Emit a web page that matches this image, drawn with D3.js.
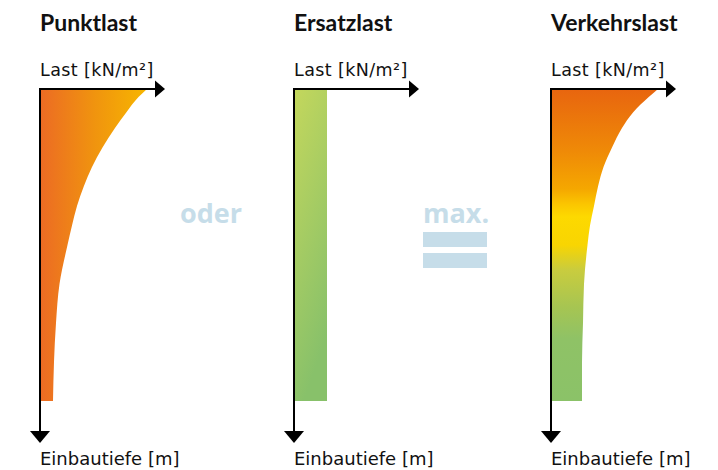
<!DOCTYPE html>
<html>
<head>
<meta charset="utf-8">
<script src="https://cdn.jsdelivr.net/npm/d3@7/dist/d3.min.js"></script>
<style>
  body { margin: 0; background: #fff; }
  svg text { font-family: "DejaVu Sans", sans-serif; fill: #111; }
  .title { font-family: Lato, sans-serif; font-weight: bold; font-size: 23px; }
  .xlabel { font-size: 17.5px; letter-spacing: 0.4px; }
  .ylabel { font-size: 18px; }
  .between { font-family: "Open Sans", sans-serif; font-weight: bold; font-size: 27px; fill: #c6dde9; }
</style>
</head>
<body>
<svg id="plot" width="718" height="470"></svg>
<script>
// chart values
var titles = ['Punktlast', 'Ersatzlast', 'Verkehrslast'];
var xLabel = 'Last [kN/m²]';
var yLabel = 'Einbautiefe [m]';
var joinWords = ['oder', 'max.'];

// depth [m] and load [kN/m²] along each profile
var depths = [0, 0.1, 0.3, 0.5, 0.75, 1.0, 1.25, 1.5, 1.75, 2.0, 2.5, 3.0, 3.5, 4.0];
var punktLoads = [8.56, 7.9, 6.9, 6.0, 5.0, 4.16, 3.5, 2.96, 2.56, 2.2, 1.56, 1.28, 1.12, 1.04];
var ersatzLoads = [2.64, 2.64, 2.64, 2.64, 2.64, 2.64, 2.64, 2.64, 2.64, 2.64, 2.64, 2.64, 2.64, 2.64];
var verkehrLoads = [8.56, 7.84, 6.56, 5.68, 4.88, 4.2, 3.76, 3.44, 3.12, 2.92, 2.64, 2.56, 2.48, 2.48];

var loads = [punktLoads, ersatzLoads, verkehrLoads];

var svg = d3.select('#plot');
var panelX = [40, 294, 551];   // left edge (axis) of each panel
var top0 = 89;

// scales shared by all three profiles
var yScale = d3.scaleLinear().domain([0, 4]).range([top0, 401]);
var xLen = d3.scaleLinear().domain([0, 10]).range([0, 125]);

var defs = svg.append('defs');

// Punktlast: horizontal orange gradient (in panel coordinates)
var g0 = defs.append('linearGradient').attr('id', 'grad0')
  .attr('gradientUnits', 'userSpaceOnUse')
  .attr('x1', 0).attr('x2', 107).attr('y1', 0).attr('y2', 0);
[[0, '#ec6b24'], [0.5, '#f0930f'], [1, '#f7b600']].forEach(function (s) {
  g0.append('stop').attr('offset', s[0]).attr('stop-color', s[1]);
});

// Ersatzlast: light to darker green
var g1 = defs.append('linearGradient').attr('id', 'grad1')
  .attr('x1', 0).attr('x2', 0.3).attr('y1', 0).attr('y2', 1);
[[0, '#c4d75c'], [1, '#88c16a']].forEach(function (s) {
  g1.append('stop').attr('offset', s[0]).attr('stop-color', s[1]);
});

// Verkehrslast: orange -> yellow -> green, top to bottom
var g2 = defs.append('linearGradient').attr('id', 'grad2')
  .attr('gradientUnits', 'userSpaceOnUse')
  .attr('x1', 0).attr('x2', 0).attr('y1', top0).attr('y2', 401);
[[0, '#e8650f'], [0.2, '#ef8a07'], [0.32, '#f5a700'], [0.37, '#fbc600'], [0.41, '#fdd900'],
 [0.5, '#f8d502'], [0.58, '#c9cc3e'], [0.7, '#a6c552'], [0.8, '#8fc266'], [1, '#8bc268']].forEach(function (s) {
  g2.append('stop').attr('offset', s[0]).attr('stop-color', s[1]);
});

// arrow heads
defs.append('marker').attr('id', 'headR')
  .attr('markerUnits', 'userSpaceOnUse')
  .attr('viewBox', '0 -9 10 18').attr('refX', 0).attr('refY', 0)
  .attr('markerWidth', 10).attr('markerHeight', 18).attr('orient', 'auto')
  .append('path').attr('d', 'M0,-8.5L10,0L0,8.5Z').attr('fill', '#000');
defs.append('marker').attr('id', 'headD')
  .attr('markerUnits', 'userSpaceOnUse')
  .attr('viewBox', '0 -10 12 20').attr('refX', 0).attr('refY', 0)
  .attr('markerWidth', 12).attr('markerHeight', 20).attr('orient', 'auto')
  .append('path').attr('d', 'M0,-10L12,0L0,10Z').attr('fill', '#000');

titles.forEach(function (t, i) {
  var x0 = panelX[i];
  var g = svg.append('g').attr('transform', 'translate(' + x0 + ',0)');
  var pts = depths.map(function (d, k) { return [d, loads[i][k]]; });

  var area = d3.area()
    .x0(0)
    .x1(function (d) { return xLen(d[1]); })
    .y(function (d) { return yScale(d[0]); })
    .curve(d3.curveMonotoneY);

  g.append('path')
    .datum(pts)
    .attr('d', area)
    .attr('fill', 'url(#grad' + i + ')');

  // horizontal axis (load)
  g.append('line')
    .attr('x1', 0).attr('x2', 115)
    .attr('y1', top0).attr('y2', top0)
    .attr('stroke', '#000').attr('stroke-width', 2)
    .attr('marker-end', 'url(#headR)');

  // vertical axis (depth)
  g.append('line')
    .attr('x1', 0).attr('x2', 0)
    .attr('y1', top0 - 1).attr('y2', 431)
    .attr('stroke', '#000').attr('stroke-width', 2)
    .attr('marker-end', 'url(#headD)');

  g.append('text').attr('class', 'title').attr('x', 0).attr('y', 31).text(t);
  g.append('text').attr('class', 'xlabel').attr('x', 0).attr('y', 76).text(xLabel);
  g.append('text').attr('class', 'ylabel').attr('x', 0).attr('y', 465).text(yLabel);
});

// "oder" and "max. =" between panels
svg.append('text').attr('class', 'between').attr('x', 180).attr('y', 223).text(joinWords[0]);
svg.append('text').attr('class', 'between').attr('x', 423).attr('y', 223).text(joinWords[1]);
svg.selectAll('rect.eq')
  .data([232, 253])
  .enter().append('rect')
  .attr('class', 'eq')
  .attr('x', 423).attr('y', function (d) { return d; })
  .attr('width', 64).attr('height', 15)
  .attr('fill', '#c6dde9');
</script>
</body>
</html>
